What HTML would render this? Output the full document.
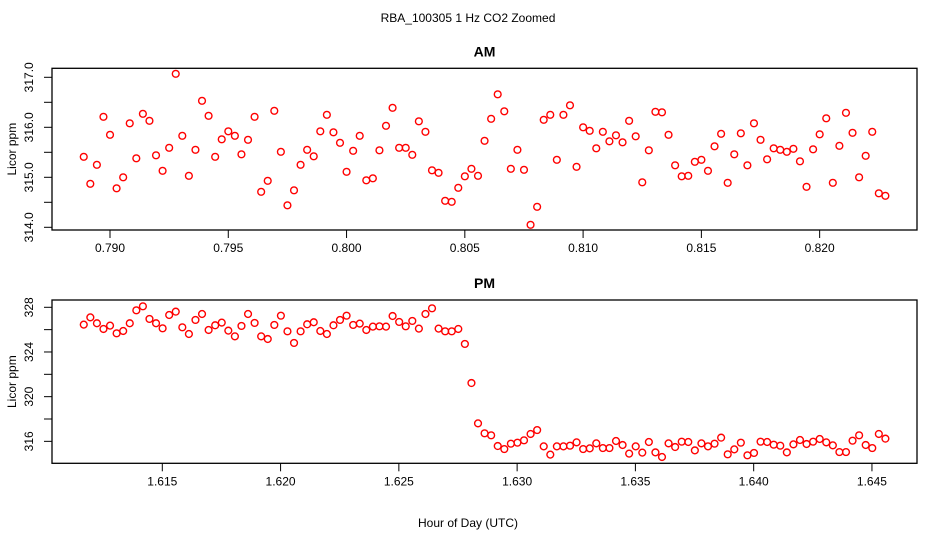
<!DOCTYPE html>
<html><head><meta charset="utf-8"><style>
html,body{margin:0;padding:0;background:#fff;}
svg{display:block;font-family:"Liberation Sans",sans-serif;}
</style></head><body>
<svg id="chart" width="936" height="540" xmlns="http://www.w3.org/2000/svg">
<text x="468" y="22" font-size="12" text-anchor="middle">RBA_100305  1 Hz CO2 Zoomed</text>
<text x="468" y="527" font-size="12" text-anchor="middle">Hour of Day (UTC)</text>
</svg>
<script>
const amStart = 0.78889;
const pmStart = 1.61168;
const step = 1/3600;
const amValues = [315.41,314.87,315.25,316.21,315.85,314.78,315.0,316.08,315.38,316.27,316.13,315.44,315.13,315.59,317.07,315.83,315.03,315.55,316.53,316.23,315.41,315.76,315.92,315.83,315.46,315.75,316.21,314.71,314.93,316.33,315.51,314.44,314.74,315.25,315.55,315.42,315.92,316.25,315.90,315.69,315.11,315.53,315.83,314.94,314.98,315.54,316.03,316.39,315.59,315.59,315.45,316.12,315.91,315.14,315.09,314.53,314.51,314.79,315.02,315.17,315.03,
315.73,316.17,316.66,316.32,315.17,315.55,315.15,314.05,314.41,316.15,316.25,315.35,316.25,316.44,315.21,316.0,315.93,315.58,315.91,315.72,315.84,315.70,316.13,315.82,314.90,315.54,316.31,316.30,315.85,315.24,315.02,315.03,315.31,315.35,315.13,315.62,315.87,314.89,315.46,315.88,315.24,316.08,315.75,315.36,315.58,315.55,315.51,315.57,315.32,314.81,315.56,315.86,316.18,314.89,315.63,316.29,315.89,315.0,315.43,315.91,314.68,314.63];
const pmValues = [326.45,327.10,326.57,326.06,326.36,325.67,325.88,326.57,327.73,328.09,326.96,326.57,326.12,327.31,327.61,326.21,325.61,326.87,327.40,325.97,326.39,326.63,325.91,325.40,326.33,327.40,326.60,325.40,325.16,326.42,327.25,325.85,324.81,325.85,326.48,326.66,325.88,325.61,326.39,326.87,327.25,326.42,326.54,325.97,326.27,326.30,326.27,327.22,326.69,326.30,326.78,326.09,327.40,327.91,326.09,325.85,325.85,326.06,324.72,321.22,317.61,
316.72,316.54,315.58,315.31,315.79,315.88,316.09,316.66,317.01,315.55,314.81,315.55,315.55,315.61,315.91,315.31,315.37,315.82,315.40,315.40,316.03,315.67,314.90,315.55,314.99,315.94,315.01,314.60,315.82,315.49,315.97,315.94,315.19,315.82,315.55,315.79,316.33,314.84,315.28,315.88,314.75,314.96,315.97,315.94,315.70,315.61,315.01,315.73,316.12,315.76,315.97,316.21,315.91,315.64,315.04,315.04,316.06,316.54,315.67,315.40,316.66,316.24];
const amXTicks = [0.790,0.795,0.800,0.805,0.810,0.815,0.820];
const amXLabels = ["0.790","0.795","0.800","0.805","0.810","0.815","0.820"];
const amYTicks = [314.0,314.5,315.0,315.5,316.0,316.5,317.0];
const amYLabels = ["314.0","","315.0","","316.0","","317.0"];
const pmXTicks = [1.615,1.620,1.625,1.630,1.635,1.640,1.645];
const pmXLabels = ["1.615","1.620","1.625","1.630","1.635","1.640","1.645"];
const pmYTicks = [316,318,320,322,324,326,328];
const pmYLabels = ["316","","320","","324","","328"];

const NS = "http://www.w3.org/2000/svg";
const svg = document.getElementById('chart');
function mk(tag, attrs, parent){const e=document.createElementNS(NS,tag);for(const k in attrs)e.setAttribute(k,attrs[k]);(parent||svg).appendChild(e);return e;}

function panel(name, title, box, x0, xPx0, xScale, y0, yPx0, yScale, start, vals, xt, xl, yt, yl){
  const g = mk('g',{});
  
  
  const X = v => xPx0 + (v - x0) * xScale;
  const Y = v => yPx0 - (v - y0) * yScale;
  const t = mk('text',{x:(box.l+box.r)/2,y:box.t-12,'font-size':14,'font-weight':'bold','text-anchor':'middle'},g);
  t.textContent = title;
  
  
  const r = mk('rect',{x:box.l,y:box.t,width:box.r-box.l,height:box.b-box.t,fill:'none',stroke:'#000','stroke-width':1.3},g);
  
  
  xt.forEach((v,i)=>{
    const x = X(v);
    const l = mk('line',{x1:x,x2:x,y1:box.b,y2:box.b+8,stroke:'#000','stroke-width':1},g);
    
    
    const tx = mk('text',{x:x,y:box.b+22,'font-size':12,'text-anchor':'middle'},g);
    tx.textContent = xl[i];
    
    
  });
  yt.forEach((v,i)=>{
    const y = Y(v);
    const l = mk('line',{x1:box.l-8,x2:box.l,y1:y,y2:y,stroke:'#000','stroke-width':1},g);
    
    
    if(yl[i]){
      const ty = mk('text',{x:0,y:0,'font-size':12,'text-anchor':'middle',transform:`translate(33,${y}) rotate(-90)`},g);
      ty.textContent = yl[i];
      
      
    }
  });
  const yt2 = mk('text',{x:0,y:0,'font-size':12,'text-anchor':'middle',transform:`translate(16,${(box.t+box.b)/2}) rotate(-90)`},g);
  yt2.textContent = 'Licor ppm';
  
  
  vals.forEach((v,i)=>{
    const c = mk('circle',{cx:X(start + i*step),cy:Y(v),r:3.4,fill:'none',stroke:'#ff0000','stroke-width':1.4},g);
    
    
  });
}
panel('am','AM',{l:52,r:917,t:68.3,b:230},0.790,110,23655,317,77.3,50,amStart,amValues,amXTicks,amXLabels,amYTicks,amYLabels);
panel('pm','PM',{l:52,r:917,t:300,b:463.3},1.615,162.3,23655,328,307.3,11.17,pmStart,pmValues,pmXTicks,pmXLabels,pmYTicks,pmYLabels);
</script>
</body></html>
